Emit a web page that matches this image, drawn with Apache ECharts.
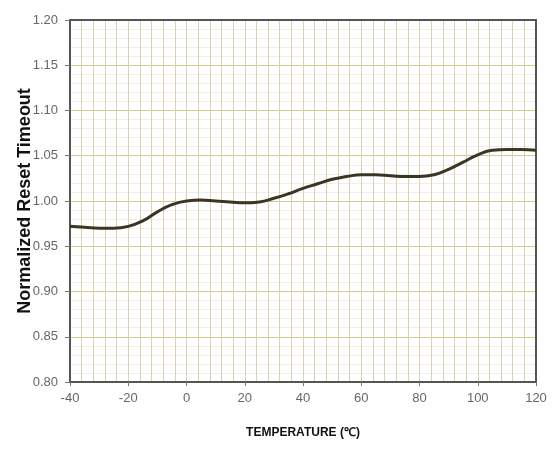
<!DOCTYPE html>
<html>
<head>
<meta charset="utf-8">
<script src="https://cdn.jsdelivr.net/npm/echarts@6/dist/echarts.min.js"></script>
<style>
html,body{margin:0;padding:0;background:#fff;}
#chart{width:560px;height:464px;}
</style>
</head>
<body>
<div id="chart"></div>
<script>
// temperature (C) and normalized reset timeout
var temps=[-40,-35,-30,-25,-20,-15,-10,-5,0,5,10,15,20,25,30,35,40,45,50,55,60,65,70,75,80,85,90,95,100,105,110,115,120];
var timeout=[0.972,0.971,0.970,0.970,0.972,0.978,0.988,0.996,1.000,1.001,1.000,0.999,0.998,0.999,1.003,1.008,1.014,1.019,1.024,1.027,1.029,1.029,1.028,1.027,1.027,1.029,1.035,1.043,1.051,1.056,1.057,1.057,1.056];
var xTitle='TEMPERATURE (\u2103)';
var yTitle='Normalized Reset Timeout';

function loadChart(){
	var myChart=echarts.init(document.getElementById('chart'));
	var pts=[];
	for(var i=0;i<temps.length;i++){
		pts.push([temps[i],timeout[i]]);
	}
	var lblFont='"Liberation Sans",Arial,sans-serif';
	var option={
		backgroundColor:'#fff',
		animation:false,
		grid:{
			left:70,right:24,top:20,bottom:82,
			outerBoundsMode:'none',containLabel:false
		},
		xAxis:[
			{
				type:'value',
				min:-40,max:120,interval:20,
				name:xTitle,nameLocation:'middle',nameGap:45,nameMoveOverlap:false,
				nameTextStyle:{color:'#111',fontWeight:'bold',fontSize:12,fontFamily:lblFont},
				axisLine:{onZero:false,lineStyle:{color:'#555',width:2}},
				axisTick:{show:true,length:4,lineStyle:{color:'#777'}},
				axisLabel:{color:'#666',fontSize:13,fontFamily:lblFont,margin:10},
				splitLine:{show:true,lineStyle:{color:'#d9d3b2',width:1}},
				minorTick:{show:false,splitNumber:5},
				minorSplitLine:{show:true,lineStyle:{color:'#d9d3b2',width:1}}
			},
			{
				// top frame line
				type:'value',position:'top',
				min:-40,max:120,interval:20,
				axisLine:{show:true,onZero:false,lineStyle:{color:'#555',width:2}},
				axisTick:{show:false},axisLabel:{show:false},splitLine:{show:false}
			}
		],
		yAxis:[
			{
				type:'value',
				min:0.80,max:1.20,interval:0.05,
				name:yTitle,nameLocation:'middle',nameGap:36,nameMoveOverlap:false,
				nameTextStyle:{color:'#111',fontWeight:'bold',fontSize:18,fontFamily:lblFont},
				axisLine:{show:true,onZero:false,lineStyle:{color:'#555',width:2}},
				axisTick:{show:true,length:5,lineStyle:{color:'#777'}},
				axisLabel:{color:'#666',fontSize:13,fontFamily:lblFont,margin:12,
					formatter:function(v){return v.toFixed(2);}},
				splitLine:{show:true,lineStyle:{color:'#d2ca8e',width:1}},
				minorTick:{show:false,splitNumber:5},
				minorSplitLine:{show:true,lineStyle:{color:'#eeeeea',width:1}}
			},
			{
				// right frame line
				type:'value',position:'right',
				min:0.80,max:1.20,interval:0.05,
				axisLine:{show:true,onZero:false,lineStyle:{color:'#555',width:2}},
				axisTick:{show:false},axisLabel:{show:false},splitLine:{show:false}
			}
		],
		series:[
			{
				type:'line',
				data:pts,
				smooth:0.5,
				symbol:'none',
				lineStyle:{color:'#3a3623',width:3}
			}
		]
	};
	myChart.setOption(option);
}
loadChart();
</script>
</body>
</html>
